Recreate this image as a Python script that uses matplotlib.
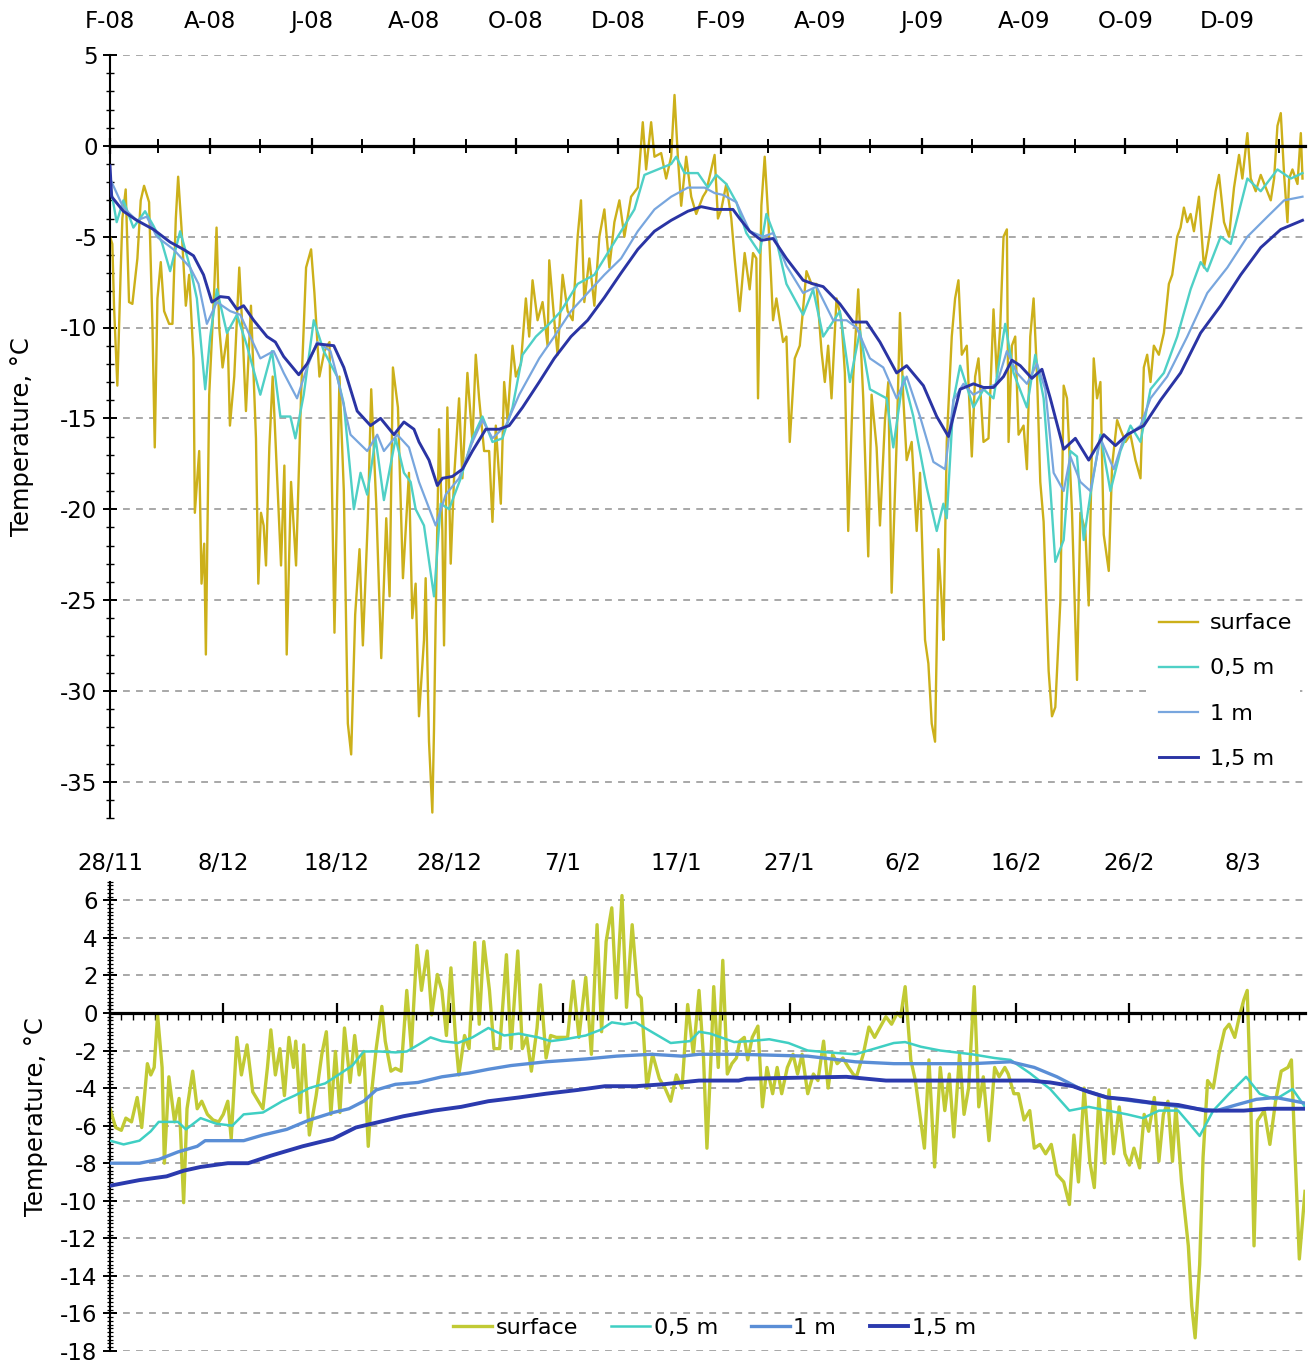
import datetime as dt

import matplotlib
matplotlib.use("Agg")
import matplotlib.pyplot as plt
from matplotlib.ticker import FixedLocator, MultipleLocator

plt.rcParams["font.family"] = ["DejaVu Sans"]
plt.rcParams["axes.unicode_minus"] = False

# ---------------------------------------------------------------------------
# Data
# Upper panel: daily record Feb 2008 - Jan 2010, x = days since 1 Feb 2008
# Lower panel: winter detail, x = days since 28 Nov
# Each series is a list of (day, temperature in deg C)
# ---------------------------------------------------------------------------
series_labels = ["surface", "0,5 m", "1 m", "1,5 m"]

long_start = dt.date(2008, 2, 1)
long_span = 715.5
winter_start = dt.date(2008, 11, 28)
winter_span = 105.5

long_surface = [
    (0, -5.0), (1.4, -5.4), (2.4, -8.8), (4.4, -13.2), (6.4, -6.9), (7.4, -4.0),
    (9.4, -2.4), (11.4, -8.6), (13.4, -8.7), (16.4, -6.2), (18.4, -3.0), (20.4, -2.2),
    (23.4, -3.1), (25.4, -9.8), (26.8, -16.6), (28.4, -8.4), (30.4, -6.4), (32.4, -9.1),
    (35.4, -9.8), (37.4, -9.8), (39.4, -4.0), (40.8, -1.7), (42.8, -4.5), (45.4, -8.8),
    (47.4, -7.1), (50, -11.7), (50.8, -20.2), (53.4, -16.8), (54.8, -24.1), (56.4, -21.9),
    (57.4, -28.0), (59.4, -13.7), (62.4, -7.9), (63.8, -4.5), (65.4, -10.0), (67.4, -12.2),
    (70.4, -10.3), (71.8, -15.4), (74.4, -12.7), (77.4, -6.7), (79.4, -10.3), (81.4, -14.6),
    (84.4, -8.8), (87.4, -16.1), (88.8, -24.1), (90.4, -20.2), (92, -20.9), (93.4, -23.1),
    (95.4, -16.6), (97.4, -12.7), (100.4, -19.0), (102.4, -23.1), (104.4, -17.6), (105.8, -28.0),
    (108.4, -18.5), (111.4, -23.1), (114.4, -13.7), (117.4, -6.7), (120.4, -5.7), (122.4, -8.1),
    (125.4, -12.7), (128.4, -11.3), (131.4, -10.8), (134.4, -26.8), (137.4, -12.7), (140, -19.0),
    (142.4, -31.8), (144.4, -33.5), (146.8, -25.8), (149.4, -22.2), (151.4, -27.5), (154.4, -20.5),
    (156.4, -13.4), (159.4, -19.7), (162.4, -28.2), (165.4, -20.5), (167.4, -24.8), (169.4, -12.2),
    (172.4, -14.4), (175.4, -23.8), (177, -21.2), (179, -18.0), (181, -26.0), (183, -24.1),
    (185, -31.4), (188, -27.2), (189, -23.8), (191, -32.8), (193, -36.7), (194, -32.1),
    (195, -26.0), (197, -15.6), (199, -21.2), (200, -27.5), (202, -14.4), (204, -23.0),
    (206, -18.3), (209, -13.9), (211, -18.3), (214, -12.5), (217, -16.3), (219, -11.5),
    (221, -13.9), (224, -16.8), (227, -16.8), (229, -20.7), (231, -15.4), (234, -19.7),
    (236, -13.0), (238, -15.1), (241, -11.0), (243, -12.7), (246, -12.0), (249, -8.4),
    (251, -10.5), (253, -7.4), (256, -9.6), (259, -8.6), (262, -11.0), (263, -6.3),
    (266, -9.6), (268, -11.5), (271, -7.1), (274, -9.1), (277, -9.6), (280, -5.0),
    (282, -3.0), (284, -8.6), (287, -6.2), (290, -8.8), (293, -5.0), (296, -3.5),
    (299, -6.7), (302, -4.2), (305, -3.0), (308, -5.0), (312, -2.8), (316, -2.3),
    (319, 1.3), (321, -1.3), (324, 1.3), (326, -0.6), (330, -0.4), (333, -1.8),
    (336, -0.6), (338, 2.8), (340, -0.6), (342, -3.3), (345, -0.6), (348, -2.8),
    (351, -3.75), (355, -2.8), (357, -2.5), (360, -1.3), (362, -0.5), (364, -4.0),
    (366, -3.5), (369, -2.1), (372, -4.0), (374, -6.2), (377, -9.1), (380, -5.9),
    (383, -7.9), (385, -5.9), (387, -6.2), (388, -13.9), (390, -3.3), (392, -0.6),
    (394, -3.75), (397, -9.6), (399, -8.4), (403, -10.8), (405, -10.5), (407, -16.3),
    (410, -11.7), (413, -11.0), (417, -6.9), (420, -7.6), (423, -7.6), (426, -11.3),
    (428, -13.0), (430, -11.0), (432, -13.9), (435, -8.4), (438, -9.6), (440, -12.5),
    (442, -21.2), (445, -12.7), (448, -7.9), (451, -13.9), (454, -22.6), (456, -13.7),
    (459, -16.6), (461, -20.9), (464, -15.1), (466, -13.0), (468, -24.6), (471, -16.3),
    (473, -9.2), (475, -13.9), (477, -17.3), (480, -16.3), (483, -21.2), (485, -18.0),
    (488, -27.2), (490, -28.5), (492, -31.8), (494, -32.8), (496, -22.2), (498, -25.1),
    (499, -27.2), (501, -16.3), (504, -10.5), (506, -8.4), (508, -7.4), (510, -11.5),
    (513, -11.0), (516, -17.1), (518, -12.7), (520, -11.7), (523, -16.3), (526, -16.1),
    (529, -9.0), (531, -12.7), (533, -10.0), (535, -5.0), (537, -4.6), (538, -16.3),
    (540, -11.0), (542, -10.5), (544, -15.9), (547, -15.4), (549, -17.8), (551, -10.5),
    (553, -8.4), (555, -12.5), (557, -18.5), (559, -20.7), (562, -28.9), (564, -31.4),
    (566, -30.9), (569, -25.1), (571, -13.2), (573, -13.9), (576, -20.2), (579, -29.4),
    (581, -20.2), (584, -21.2), (586, -25.3), (589, -11.7), (591, -13.9), (593, -13.0),
    (595, -21.4), (598, -23.4), (600, -17.6), (603, -15.1), (605, -15.6), (608, -16.3),
    (611, -15.9), (614, -17.3), (617, -18.3), (619, -12.2), (621, -11.5), (623, -13.0),
    (625, -11.0), (628, -11.5), (631, -10.3), (634, -7.6), (636, -7.1), (639, -5.0),
    (641, -4.5), (643, -3.4), (645, -4.2), (647, -3.75), (649, -4.7), (652, -2.8),
    (655, -6.7), (657, -5.7), (659, -4.5), (662, -2.5), (664, -1.6), (667, -4.2),
    (670, -5.0), (673, -2.3), (676, -0.5), (678, -1.8), (681, 0.7), (683, -1.8),
    (686, -2.5), (689, -1.6), (692, -2.3), (695, -3.0), (697, -1.8), (699, 1.1),
    (701, 1.8), (703, -1.6), (705, -4.2), (706, -1.8), (708, -1.3), (711, -2.1),
    (713, 0.7), (714, -1.8),
]

long_d05 = [
    (0, -2.1), (4, -4.2), (8, -3.0), (14, -4.5), (21, -3.6), (26, -4.4), (31, -5.3),
    (36, -6.9), (42, -4.7), (48, -6.7), (52, -8.4), (57, -13.4), (60, -10.5), (64, -7.9),
    (70, -10.3), (76, -9.3), (82, -11.0), (90, -13.7), (97, -11.3), (102, -14.9), (108, -14.9),
    (111, -16.1), (116, -13.7), (122, -9.6), (128, -11.3), (136, -12.7), (140, -14.2),
    (146, -20.0), (150, -18.0), (154, -19.2), (159, -16.1), (164, -19.5), (171, -16.1),
    (176, -18.0), (180, -18.5), (183, -20.0), (188, -20.9), (194, -24.8), (198, -19.7),
    (203, -20.0), (210, -18.3), (217, -16.1), (223, -14.9), (229, -16.3), (235, -16.1),
    (241, -14.4), (247, -11.5), (255, -10.5), (263, -9.8), (270, -9.1), (280, -7.6),
    (290, -7.1), (298, -5.9), (306, -4.7), (314, -3.5), (320, -1.6), (328, -1.3),
    (336, -1.0), (339, -0.6), (344, -1.5), (352, -1.5), (358, -2.3), (363, -1.6),
    (369, -2.1), (375, -3.1), (381, -4.8), (389, -5.9), (393, -3.75), (399, -5.2),
    (405, -7.6), (415, -9.3), (421, -7.9), (427, -10.5), (437, -9.1), (443, -13.0),
    (449, -10.2), (455, -13.4), (465, -13.9), (469, -16.6), (475, -12.7), (481, -14.9),
    (489, -18.8), (495, -21.2), (499, -19.7), (501, -20.5), (505, -14.0), (509, -12.1),
    (517, -14.4), (523, -13.4), (529, -13.9), (536, -9.8), (541, -12.5), (549, -14.4),
    (554, -11.5), (559, -13.9), (563, -18.8), (566, -22.9), (571, -21.7), (575, -16.8),
    (579, -17.1), (583, -21.7), (587, -19.2), (593, -15.9), (599, -19.0), (605, -16.8),
    (611, -15.4), (617, -16.3), (623, -13.4), (631, -12.5), (639, -10.5), (647, -7.9),
    (653, -6.4), (657, -6.9), (665, -5.0), (671, -5.4), (681, -1.8), (689, -2.5),
    (699, -1.3), (707, -1.8), (714, -1.5),
]

long_d10 = [
    (0, -1.8), (8, -3.4), (16, -4.1), (22, -3.9), (28, -5.0), (38, -5.7), (48, -6.7),
    (53, -7.6), (58, -9.8), (64, -8.6), (72, -9.1), (78, -9.3), (84, -10.5), (90, -11.7),
    (98, -11.3), (104, -12.5), (112, -13.9), (118, -12.2), (124, -10.8), (132, -11.3),
    (136, -12.7), (144, -15.9), (154, -16.8), (160, -15.9), (164, -16.8), (172, -15.9),
    (179, -16.6), (185, -18.5), (195, -20.9), (201, -19.2), (209, -18.3), (217, -16.3),
    (223, -15.1), (229, -16.1), (237, -15.4), (245, -13.7), (257, -11.7), (266, -10.5),
    (276, -9.1), (286, -8.1), (296, -7.1), (306, -6.2), (316, -4.7), (326, -3.5),
    (336, -2.8), (346, -2.3), (356, -2.3), (362, -2.6), (367, -2.7), (375, -3.1),
    (383, -4.7), (391, -5.0), (397, -4.8), (405, -6.6), (415, -8.1), (423, -7.75),
    (433, -9.6), (441, -9.6), (447, -10.0), (455, -11.7), (463, -12.2), (471, -13.9),
    (477, -12.7), (485, -14.9), (493, -17.4), (500, -17.8), (505, -14.0), (511, -13.1),
    (517, -13.7), (523, -13.4), (531, -13.1), (537, -11.3), (543, -12.5), (549, -13.1),
    (555, -12.0), (560, -13.4), (565, -18.0), (571, -19.0), (575, -17.1), (581, -18.5),
    (587, -19.0), (593, -16.1), (601, -17.8), (607, -16.1), (617, -15.4), (623, -13.9),
    (633, -12.7), (645, -10.5), (657, -8.1), (669, -6.7), (681, -5.0), (693, -3.9),
    (703, -3.0), (714, -2.8),
]

long_d15 = [
    (0, -1.1), (1, -2.8), (8, -3.6), (16, -4.1), (26, -4.6), (36, -5.3), (44, -5.7),
    (50, -6.05), (56, -7.1), (61, -8.6), (66, -8.3), (71, -8.35), (76, -9.0), (80, -8.8),
    (86, -9.6), (94, -10.5), (99, -10.8), (104, -11.6), (113, -12.6), (118, -12.0),
    (124, -10.9), (134, -11.0), (140, -12.2), (148, -14.6), (156, -15.4), (162, -15.0),
    (170, -15.9), (176, -15.2), (182, -15.6), (185, -16.3), (191, -17.3), (196, -18.7),
    (199, -18.3), (205, -18.2), (211, -17.8), (217, -16.8), (225, -15.6), (233, -15.6),
    (239, -15.4), (247, -14.4), (257, -13.0), (266, -11.7), (276, -10.5), (286, -9.6),
    (296, -8.35), (306, -7.0), (316, -5.7), (326, -4.7), (336, -4.1), (346, -3.6),
    (354, -3.35), (362, -3.5), (373, -3.5), (377, -4.0), (383, -4.7), (390, -5.2),
    (397, -5.1), (405, -6.2), (415, -7.4), (421, -7.6), (427, -7.75), (437, -8.7),
    (445, -9.7), (453, -9.7), (461, -10.8), (471, -12.5), (477, -12.1), (487, -13.2),
    (495, -14.9), (502, -16.0), (509, -13.4), (517, -13.1), (523, -13.3), (529, -13.3),
    (535, -12.7), (540, -11.8), (545, -12.1), (552, -12.8), (558, -12.3), (563, -13.9),
    (571, -16.7), (578, -16.1), (586, -17.3), (595, -15.9), (602, -16.5), (609, -15.9),
    (619, -15.4), (629, -14.0), (641, -12.5), (653, -10.3), (665, -8.8), (677, -7.1),
    (689, -5.6), (701, -4.6), (714, -4.1),
]

winter_surface = [
    (0, -5.1), (0.5, -6.1), (1.0, -6.25), (1.4, -5.6), (1.9, -5.8), (2.4, -4.5), (2.8, -6.1),
    (3.3, -2.7), (3.6, -3.3), (3.9, -2.9), (4.2, -0.1), (4.6, -2.9), (4.8, -8.0), (5.2, -3.4),
    (5.7, -5.8), (6.1, -4.55), (6.5, -10.1), (6.8, -5.1), (7.3, -3.1), (7.7, -5.1), (8.1, -4.7),
    (8.6, -5.4), (9.1, -5.7), (9.6, -5.8), (10.0, -5.4), (10.4, -4.7), (10.7, -6.7), (11.2, -1.3),
    (11.6, -3.3), (12.1, -1.7), (12.6, -4.2), (13.1, -4.7), (13.5, -5.1), (13.9, -2.9), (14.2, -0.9),
    (14.6, -3.3), (15.0, -1.9), (15.4, -4.4), (15.8, -1.3), (16.2, -2.9), (16.4, -1.5), (16.8, -5.3),
    (17.1, -1.7), (17.6, -6.5), (18.2, -4.4), (18.7, -2.2), (19.1, -1.0), (19.5, -5.4), (19.9, -2.05),
    (20.3, -5.3), (20.7, -0.8), (21.2, -3.7), (21.6, -1.2), (22.0, -3.3), (22.4, -2.05), (22.8, -7.1),
    (23.1, -4.2), (23.5, -1.9), (24.0, 0.35), (24.3, -1.5), (24.8, -3.1), (25.2, -2.95), (25.7, -3.1),
    (26.2, 1.2), (26.6, -1.9), (27.1, 3.6), (27.5, 1.2), (28.0, 3.3), (28.4, -0.1), (28.9, 2.05),
    (29.3, 1.2), (29.7, -1.2), (30.1, 2.4), (30.5, -1.3), (30.8, -3.3), (31.3, -1.2), (31.7, -1.9),
    (32.2, 3.75), (32.6, -0.6), (33.0, 3.8), (33.5, 1.2), (33.9, -1.9), (34.4, -1.9), (35.0, 3.1),
    (35.4, -1.9), (36.0, 3.3), (36.4, -1.9), (36.8, -1.3), (37.2, -3.1), (37.7, -0.8), (38.0, 1.5),
    (38.5, -2.4), (38.9, -1.2), (39.4, -1.3), (39.9, -1.3), (40.4, -1.3), (40.9, 1.7), (41.4, -1.3),
    (42.0, 1.9), (42.5, -2.2), (43.0, 4.7), (43.4, -1.0), (43.8, 3.8), (44.3, 5.6), (44.7, 0.8),
    (45.2, 6.25), (45.6, 0.3), (46.1, 4.7), (46.6, 1.0), (46.9, 0.8), (47.4, -4.0), (47.9, -2.2),
    (48.5, -3.5), (49.0, -4.0), (49.5, -4.7), (50.0, -3.3), (50.5, -4.0), (51.0, 0.45), (51.5, -2.2),
    (52.0, 1.2), (52.4, -2.4), (52.7, -7.2), (53.1, -1.8), (53.3, 1.4), (53.7, -2.9), (54.1, 2.8),
    (54.5, -3.25), (54.9, -2.7), (55.3, -2.4), (55.6, -1.5), (56.0, -1.3), (56.3, -2.5), (56.7, -1.3),
    (57.2, -0.7), (57.6, -5.0), (58.0, -2.9), (58.5, -4.3), (58.9, -2.9), (59.3, -4.3), (59.8, -2.9),
    (60.3, -2.2), (60.7, -3.25), (61.1, -2.2), (61.6, -4.3), (62.1, -3.25), (62.5, -3.6), (63.0, -1.5),
    (63.4, -4.0), (63.8, -2.2), (64.2, -2.7), (64.7, -2.4), (65.2, -2.9), (65.6, -3.25), (65.9, -3.4),
    (66.5, -2.2), (67.0, -0.75), (67.5, -1.3), (68.0, -0.75), (68.5, -0.2), (69.0, -0.6), (69.5, 0.0),
    (69.8, -0.2), (70.2, 1.4), (70.7, -2.5), (71.1, -3.6), (71.5, -5.4), (71.9, -7.2), (72.3, -2.5),
    (72.8, -8.2), (73.3, -2.9), (73.7, -5.2), (74.1, -3.25), (74.5, -6.6), (75.0, -2.2), (75.4, -5.4),
    (75.8, -4.0), (76.3, 1.4), (76.7, -5.0), (77.1, -3.4), (77.6, -6.8), (78.1, -2.9), (78.5, -3.4),
    (79.0, -2.9), (79.3, -3.25), (79.8, -4.3), (80.2, -4.3), (80.7, -5.7), (81.2, -5.2), (81.6, -7.2),
    (82.1, -7.0), (82.6, -7.5), (83.1, -7.0), (83.6, -8.6), (84.2, -9.0), (84.7, -10.2), (85.1, -6.5),
    (85.5, -9.0), (86.0, -4.0), (86.5, -7.9), (86.9, -9.3), (87.3, -4.5), (87.8, -8.0), (88.2, -4.1),
    (88.6, -7.5), (89.1, -5.0), (89.6, -7.5), (90.0, -8.1), (90.4, -7.2), (90.9, -8.25), (91.3, -5.4),
    (91.7, -6.3), (92.2, -4.5), (92.6, -7.9), (93.0, -5.4), (93.4, -4.7), (93.8, -7.9), (94.1, -5.0),
    (94.6, -9.0), (95.2, -12.4), (95.5, -15.6), (95.8, -17.3), (96.2, -13.4), (96.5, -7.7), (96.9, -3.6),
    (97.4, -4.0), (97.9, -2.2), (98.4, -0.9), (98.8, -0.6), (99.3, -1.3), (99.7, -0.2), (100.1, 0.7),
    (100.4, 1.2), (100.7, -4.5), (101.0, -12.4), (101.3, -5.75), (101.9, -5.2), (102.4, -7.0),
    (102.9, -4.7), (103.4, -3.1), (104.0, -2.9), (104.3, -2.5), (104.6, -7.2), (105.0, -13.1),
    (105.5, -9.5),
]

winter_d05 = [
    (0, -6.8), (1.2, -7.0), (2.6, -6.8), (3.6, -6.3), (4.3, -5.8), (6, -5.8), (6.7, -6.2),
    (8, -5.6), (9.4, -5.9), (10.8, -6.0), (11.8, -5.4), (13.5, -5.3), (15.2, -4.7), (16.3, -4.4),
    (17.6, -4.0), (19, -3.75), (20.4, -3.2), (21.4, -2.8), (22.4, -2.05), (23.8, -2.05),
    (25.2, -2.1), (26.2, -2.05), (27.2, -1.7), (28.3, -1.3), (29.3, -1.5), (30.7, -1.6),
    (32, -1.3), (33.4, -0.8), (34.8, -1.2), (36.1, -1.1), (37.8, -1.3), (38.9, -1.5),
    (40.2, -1.4), (42, -1.2), (43.3, -0.9), (44.3, -0.5), (45.4, -0.6), (46.4, -0.5),
    (47.8, -1.0), (49.5, -1.6), (51.2, -1.5), (52, -1.0), (53, -1.1), (55.1, -1.55),
    (56.5, -1.5), (58.2, -1.4), (59.9, -1.6), (61.6, -2.0), (63.4, -2.1), (65.8, -2.2),
    (67.5, -1.9), (69.2, -1.6), (70.2, -1.55), (71.6, -1.8), (73.3, -2.0), (76.1, -2.2),
    (78.1, -2.4), (79.5, -2.5), (81.2, -3.2), (83, -4.05), (84.7, -5.2), (86.4, -5.0),
    (88.1, -5.2), (89.8, -5.4), (91.2, -5.6), (92.6, -5.2), (94.3, -5.2), (95.3, -5.9),
    (96.2, -6.55), (97.4, -5.2), (98.8, -4.3), (100.3, -3.4), (101.5, -4.3), (102.9, -4.6),
    (104.4, -4.05), (105.5, -5.0),
]

winter_d10 = [
    (0, -8.0), (2.6, -8.0), (4.3, -7.8), (6, -7.4), (7.7, -7.1), (8.4, -6.8), (11.8, -6.8),
    (13.5, -6.5), (15.6, -6.2), (17.6, -5.7), (19.7, -5.3), (21.1, -5.1), (22.4, -4.7),
    (23.5, -4.1), (25.2, -3.8), (27.2, -3.7), (29.3, -3.4), (31.7, -3.2), (33.4, -3.0),
    (35.4, -2.8), (38.5, -2.6), (42, -2.45), (44.7, -2.3), (47.8, -2.2), (50.5, -2.3),
    (52, -2.2), (55.5, -2.2), (61.6, -2.3), (65.8, -2.6), (69.2, -2.7), (76.1, -2.7),
    (79.5, -2.6), (81.6, -2.9), (83.6, -3.4), (85.7, -4.05), (88.1, -4.5), (90.5, -4.7),
    (93.3, -4.9), (96, -5.1), (97.7, -5.2), (99.4, -4.9), (101.2, -4.6), (102.9, -4.5),
    (105.5, -4.8),
]

winter_d15 = [
    (0, -9.2), (2.6, -8.9), (5, -8.7), (6.5, -8.4), (8, -8.2), (10.4, -8.0), (12.2, -8.0),
    (14.2, -7.6), (17, -7.1), (19.7, -6.7), (21.7, -6.1), (23.1, -5.9), (25.9, -5.5),
    (28.6, -5.2), (31, -5.0), (33.4, -4.7), (36.1, -4.5), (38.5, -4.3), (41.3, -4.1),
    (43.7, -3.9), (46.4, -3.9), (48.8, -3.8), (52, -3.6), (55.5, -3.6), (56.2, -3.5),
    (65, -3.4), (68.5, -3.6), (72.6, -3.6), (81.2, -3.6), (83, -3.7), (85, -3.9),
    (86.4, -4.2), (88, -4.5), (89.8, -4.6), (92.2, -4.8), (94.3, -4.9), (96.7, -5.2),
    (98.4, -5.2), (100.1, -5.2), (102.2, -5.1), (105.5, -5.1),
]

# ---------------------------------------------------------------------------
# Styling
# ---------------------------------------------------------------------------
long_colors = ["#CCB01A", "#4FD0C6", "#78A6DE", "#2A34A4"]
long_widths = [1.7, 1.7, 1.6, 2.1]
winter_colors = ["#C1CA34", "#3FCFC3", "#5A8ED6", "#2B3AAE"]
winter_widths = [2.4, 1.8, 2.4, 2.8]

GRID_COLOR = "#A8A8A8"
TICK_SIZE = 16.5


def month_starts(start, count):
    y, m = start.year, start.month
    out = []
    for _ in range(count):
        out.append(dt.date(y, m, 1))
        m += 1
        if m > 12:
            m, y = 1, y + 1
    return out


def style_axes(ax, label_pad):
    for side in ("top", "right"):
        ax.spines[side].set_visible(False)
    ax.spines["left"].set_linewidth(1.5)
    ax.spines["bottom"].set_position(("data", 0))
    ax.spines["bottom"].set_linewidth(2.3)
    ax.spines["bottom"].set_zorder(6)
    ax.yaxis.grid(True, which="major", color=GRID_COLOR,
                  linestyle=(0, (3.5, 3.2)), linewidth=1.4)
    ax.set_axisbelow(True)
    ax.tick_params(axis="x", which="both", bottom=True, top=False,
                   labelbottom=False, labeltop=True, pad=label_pad,
                   labelsize=TICK_SIZE)
    ax.tick_params(axis="y", which="both", left=True, right=False,
                   direction="inout", labelsize=TICK_SIZE, pad=4)
    ax.tick_params(axis="y", which="major", length=10, width=1.4)
    ax.tick_params(axis="y", which="minor", length=6, width=1.0)
    ax.set_ylabel("Temperature, °C", fontsize=17.5)


fig = plt.figure(figsize=(13.09, 13.63), dpi=100)
W, H = 1309.0, 1363.0

# Upper panel: two-year record
ax1 = fig.add_axes([110 / W, (H - 818) / H, 1195 / W, 763 / H])
for data, lab, col, lw, z in zip([long_surface, long_d05, long_d10, long_d15],
                                 series_labels, long_colors, long_widths, range(2, 6)):
    xs, ys = zip(*data)
    ax1.plot(xs, ys, color=col, lw=lw, label=lab, zorder=z, solid_joinstyle="round")
ax1.set_xlim(0, long_span)
ax1.set_ylim(-37, 5)
style_axes(ax1, label_pad=10)

months = month_starts(long_start, 24)
month_pos = [(d - long_start).days for d in months]
ax1.xaxis.set_major_locator(FixedLocator(month_pos[::2]))
ax1.xaxis.set_minor_locator(FixedLocator(month_pos[1::2]))
ax1.set_xticklabels([d.strftime("%b")[0] + "-" + d.strftime("%y") for d in months[::2]])
ax1.tick_params(axis="x", which="major", direction="inout", length=12, width=1.6)
ax1.tick_params(axis="x", which="minor", direction="inout", length=10, width=1.4)
ax1.yaxis.set_major_locator(MultipleLocator(5))
ax1.yaxis.set_minor_locator(MultipleLocator(1))
ax1.yaxis.set_label_coords(-0.064, 0.5)

leg1 = ax1.legend(loc="upper left", bbox_to_anchor=(0.862, 0.293), fontsize=16,
                  frameon=True, facecolor="white", edgecolor="none", framealpha=1,
                  handlelength=1.75, handletextpad=0.55, labelspacing=1.13,
                  borderpad=0.35, fancybox=False)
leg1.set_zorder(10)

# Lower panel: winter detail
ax2 = fig.add_axes([110 / W, 12 / H, 1195 / W, 469.5 / H])
for data, lab, col, lw, z in zip([winter_surface, winter_d05, winter_d10, winter_d15],
                                 series_labels, winter_colors, winter_widths, range(2, 6)):
    xs, ys = zip(*data)
    ax2.plot(xs, ys, color=col, lw=lw, label=lab, zorder=z, solid_joinstyle="round")
ax2.set_xlim(0, winter_span)
ax2.set_ylim(-18, 7)
style_axes(ax2, label_pad=-2)

ten_day = list(range(0, 101, 10))
ax2.xaxis.set_major_locator(FixedLocator(ten_day))
ax2.xaxis.set_minor_locator(MultipleLocator(1))
tick_dates = [winter_start + dt.timedelta(days=d) for d in ten_day]
ax2.set_xticklabels([f"{d.day}/{d.month}" for d in tick_dates])
ax2.tick_params(axis="x", which="major", direction="inout", length=14, width=1.6)
ax2.tick_params(axis="x", which="minor", direction="out", length=5, width=1.0)
ax2.yaxis.set_major_locator(MultipleLocator(2))
ax2.yaxis.set_minor_locator(MultipleLocator(0.2))
ax2.tick_params(axis="y", which="minor", length=5, width=0.9)
ax2.yaxis.set_label_coords(-0.052, 0.5)

ax2.legend(loc="center", bbox_to_anchor=(0.506, 0.05), ncol=4, fontsize=16,
           frameon=False, handlelength=1.75, handletextpad=0.15, columnspacing=1.5)

fig.savefig("out.png", dpi=100)
